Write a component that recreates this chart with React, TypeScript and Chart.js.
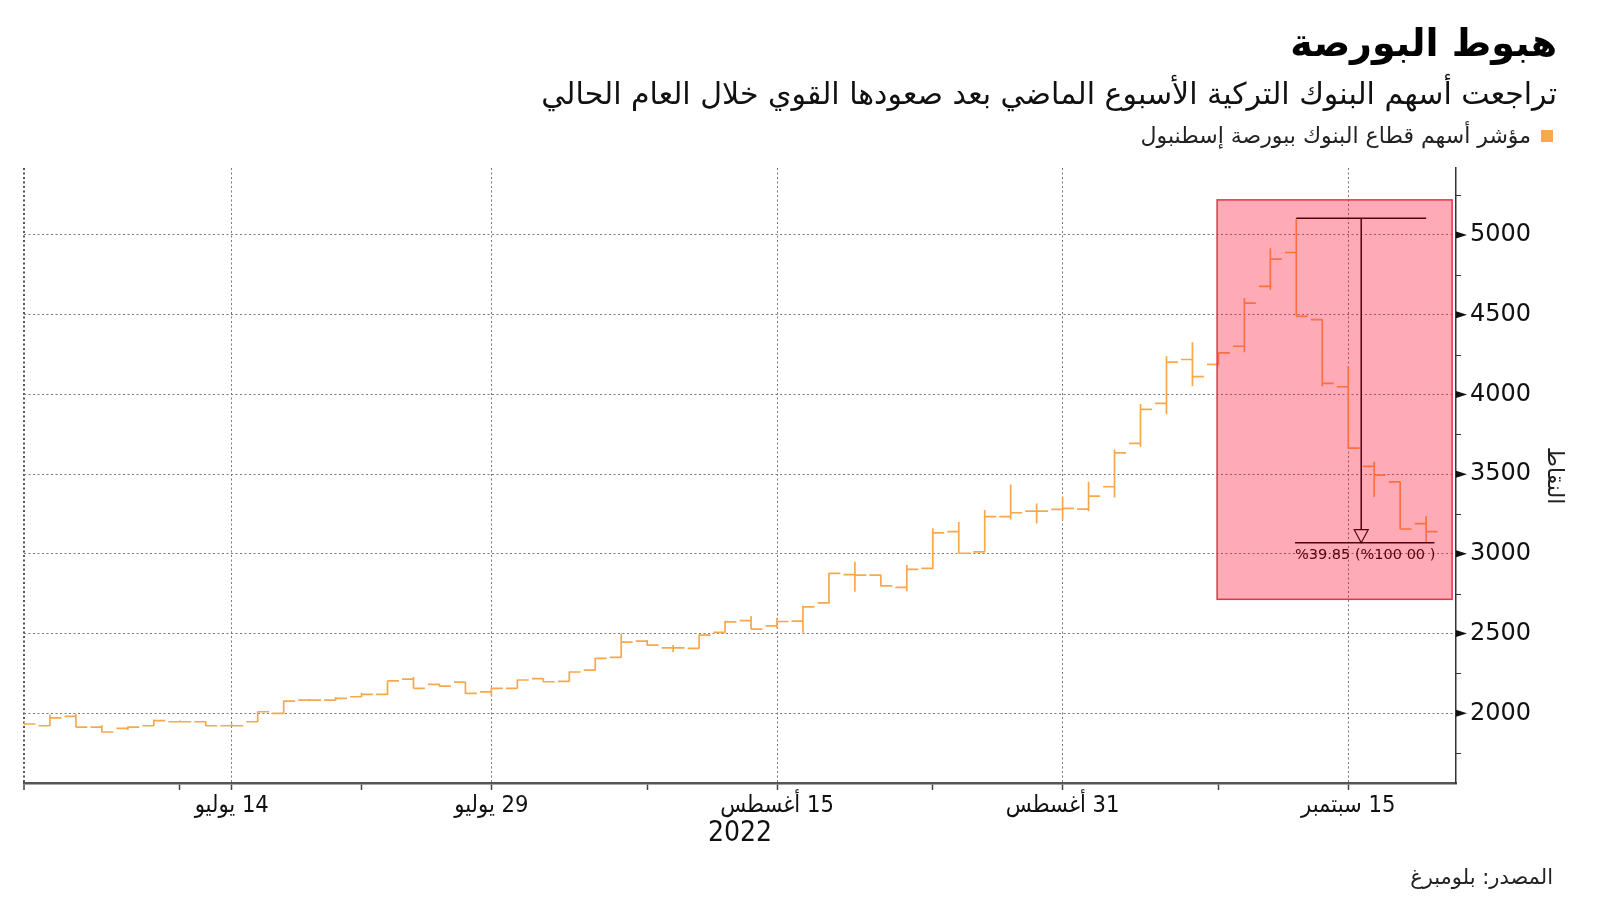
import React, { useEffect, useRef } from "react";
import { Chart, registerables } from "chart.js";

Chart.register(...registerables);

// ---- Data (trading-day index 0..54, 1 Jul 2022 .. 20 Sep 2022) ----
const opens = [
  1940, 1922, 1981, 1914, 1906, 1922, 1947, 1947, 1922, 1947,
  2000, 2083, 2083, 2104, 2119, 2215, 2182, 2196, 2135, 2157,
  2217, 2200, 2271, 2351, 2453, 2411, 2407, 2508, 2581, 2549,
  2578, 2693, 2870, 2867, 2790, 2909, 3139, 3013, 3233, 3268,
  3279, 3281, 3421, 3693, 3944, 4219, 4188, 4302, 4677, 4890,
  4469, 4048, 3549, 3451, 3190,
];
const highs = [
  1950, 1992, 1995, 1925, 1917, 1962, 1955, 1950, 1935, 2012,
  2080, 2090, 2102, 2129, 2205, 2230, 2185, 2198, 2160, 2212,
  2220, 2262, 2348, 2501, 2460, 2428, 2495, 2580, 2610, 2600,
  2675, 2880, 2950, 2870, 2930, 3161, 3200, 3275, 3435, 3316,
  3358, 3452, 3655, 3940, 4240, 4327, 4262, 4604, 4917, 5105,
  4472, 4177, 3578, 3453, 3236,
];
const lows = [
  1925, 1920, 1912, 1880, 1895, 1920, 1942, 1920, 1918, 1945,
  1995, 2075, 2080, 2102, 2115, 2155, 2168, 2122, 2110, 2155,
  2195, 2198, 2268, 2348, 2425, 2383, 2405, 2505, 2527, 2533,
  2505, 2688, 2762, 2797, 2765, 2905, 3002, 3010, 3216, 3190,
  3212, 3268, 3354, 3672, 3875, 4052, 4185, 4264, 4656, 4490,
  4052, 3660, 3359, 3154, 3070,
];
const closes = [
  1933, 1972, 1914, 1883, 1913, 1954, 1947, 1922, 1922, 2010,
  2077, 2083, 2094, 2119, 2203, 2157, 2171, 2125, 2157, 2209,
  2198, 2259, 2345, 2447, 2428, 2411, 2491, 2574, 2528, 2576,
  2668, 2878, 2867, 2799, 2903, 3132, 3004, 3233, 3258, 3268,
  3285, 3362, 3634, 3906, 4202, 4111, 4260, 4573, 4848, 4490,
  4069, 3663, 3494, 3156, 3139,
];

const xMajorIndex = [8, 18, 29, 40, 51];
const xMajorLabels = ["14 يوليو", "29 يوليو", "15 أغسطس", "31 أغسطس", "15 سبتمبر"];
const xMinorIndex = [0, 6, 13, 24, 35, 46];

const yMajor = [2000, 2500, 3000, 3500, 4000, 4500, 5000];
const yMinor = [1750, 2250, 2750, 3250, 3750, 4250, 4750, 5250];

// annotation: peak (high of bar 49) to trough (low of bar 54)
const peakIndex = 49;
const troughIndex = 54;
const dropLabel = "%39.85 (%100 00 )";
// highlighted region (index range, value range)
const boxX = [45.95, 55.0];
const boxY = [2715, 5220];

const ORANGE = "#F8A84C";
const FONT = "'DejaVu Sans', sans-serif";
const FONT_COND = "'DejaVu Sans Condensed', 'DejaVu Sans', sans-serif";

const TICK_W = 0.44;

function buildPoints() {
  const pts: { x: number; y: number | null }[] = [];
  for (let i = 0; i < opens.length; i++) {
    pts.push({ x: i - TICK_W, y: opens[i] }, { x: i, y: opens[i] }, { x: i, y: null });
    pts.push({ x: i, y: lows[i] }, { x: i, y: highs[i] }, { x: i, y: null });
    pts.push({ x: i, y: closes[i] }, { x: i + TICK_W, y: closes[i] }, { x: i + TICK_W, y: null });
  }
  return pts;
}

const overlayPlugin = {
  id: "overlayPlugin",
  afterDatasetsDraw(chart: any) {
    const { ctx, scales } = chart;
    const x = scales.x;
    const y = scales.y;
    const peakVal = highs[peakIndex];
    const troughVal = lows[troughIndex];
    const yp = y.getPixelForValue(peakVal);
    const yt = y.getPixelForValue(troughVal);
    const xPeak = x.getPixelForValue(peakIndex);
    const xEnd = x.getPixelForValue(troughIndex);
    const xMid = (xPeak + xEnd) / 2;
    ctx.save();
    ctx.strokeStyle = "#000";
    ctx.lineWidth = 1.5;
    ctx.beginPath();
    ctx.moveTo(xPeak, yp);
    ctx.lineTo(xEnd, yp);
    ctx.moveTo(xMid, yp);
    ctx.lineTo(xMid, yt - 13);
    ctx.stroke();
    ctx.lineWidth = 1.2;
    ctx.beginPath();
    ctx.moveTo(xMid - 7, yt - 13);
    ctx.lineTo(xMid + 7, yt - 13);
    ctx.lineTo(xMid, yt);
    ctx.closePath();
    ctx.stroke();
    ctx.lineWidth = 1.5;
    ctx.beginPath();
    ctx.moveTo(x.getPixelForValue(peakIndex - 0.05), yt);
    ctx.lineTo(x.getPixelForValue(troughIndex + 0.32), yt);
    ctx.stroke();
    ctx.fillStyle = "#000";
    ctx.font = `14.5px ${FONT}`;
    ctx.direction = "ltr";
    ctx.textAlign = "left";
    ctx.textBaseline = "top";
    ctx.fillText(dropLabel, x.getPixelForValue(peakIndex - 0.05), yt + 5);

    // highlight box
    const bx0 = x.getPixelForValue(boxX[0]);
    const bx1 = x.getPixelForValue(boxX[1]);
    const by0 = y.getPixelForValue(boxY[1]);
    const by1 = y.getPixelForValue(boxY[0]);
    ctx.fillStyle = "rgba(255, 0, 35, 0.33)";
    ctx.fillRect(bx0, by0, bx1 - bx0, by1 - by0);
    ctx.strokeStyle = "#E8304A";
    ctx.lineWidth = 1.5;
    ctx.strokeRect(bx0, by0, bx1 - bx0, by1 - by0);
    ctx.restore();
  },
  afterDraw(chart: any) {
    const { ctx, scales } = chart;
    const y = scales.y;
    const ax = y.left;
    ctx.save();
    ctx.fillStyle = "#111";
    yMajor.forEach((v) => {
      const py = y.getPixelForValue(v);
      ctx.beginPath();
      ctx.moveTo(ax, py - 3.5);
      ctx.lineTo(ax + 11, py);
      ctx.lineTo(ax, py + 3.5);
      ctx.closePath();
      ctx.fill();
    });
    ctx.strokeStyle = "#333";
    ctx.lineWidth = 1;
    yMinor.forEach((v) => {
      const py = Math.round(y.getPixelForValue(v)) + 0.5;
      ctx.beginPath();
      ctx.moveTo(ax, py);
      ctx.lineTo(ax + 5, py);
      ctx.stroke();
    });
    ctx.restore();
  },
};

export default function App() {
  const ref = useRef<HTMLCanvasElement | null>(null);

  useEffect(() => {
    if (!ref.current) return;
    const chart = new Chart(ref.current, {
      type: "line",
      data: {
        datasets: [
          {
            label: "مؤشر أسهم قطاع البنوك ببورصة إسطنبول",
            data: buildPoints() as any,
            borderColor: ORANGE,
            borderWidth: 1.7,
            pointRadius: 0,
            spanGaps: false,
            tension: 0,
            borderCapStyle: "butt",
            fill: false,
          },
        ],
      },
      options: {
        animation: false,
        responsive: false,
        events: [],
        layout: { padding: { left: 24, top: 168, right: 30, bottom: 48 } },
        plugins: { legend: { display: false }, tooltip: { enabled: false }, title: { display: false } },
        scales: {
          x: {
            type: "linear",
            min: 0,
            max: 55.15,
            afterBuildTicks: (s: any) => {
              s.ticks = [...xMinorIndex, ...xMajorIndex].sort((a, b) => a - b).map((v) => ({ value: v }));
            },
            afterFit: (s: any) => {
              s.height = 70;
            },
            ticks: {
              autoSkip: false,
              maxRotation: 0,
              padding: 2,
              color: "#111",
              font: { family: FONT_COND, size: 23.5 },
              callback: (v: any) => {
                const k = xMajorIndex.indexOf(Number(v));
                return k >= 0 ? xMajorLabels[k] : "";
              },
            },
            grid: {
              color: (c: any) => {
                const v = c.tick ? c.tick.value : -1;
                if (v === 0) return "#555";
                return xMajorIndex.includes(v) ? "#7a7a7a" : "rgba(0,0,0,0)";
              },
              lineWidth: (c: any) => (c.tick && c.tick.value === 0 ? 2 : 1),
              tickColor: "#444",
              tickLength: 7,
              tickWidth: 1.5,
            },
            border: { display: true, color: "#555", width: 2.5, dash: [2, 2.5] },
            title: {
              display: true,
              text: "2022",
              color: "#111",
              font: { family: FONT_COND, size: 28 },
              padding: { top: 0, bottom: 2 },
            },
          },
          y: {
            type: "linear",
            position: "right",
            min: 1563,
            max: 5420,
            afterBuildTicks: (s: any) => {
              s.ticks = [...yMinor, ...yMajor].sort((a, b) => a - b).map((v) => ({ value: v }));
            },
            afterFit: (s: any) => {
              s.width = 114;
            },
            ticks: {
              padding: 3,
              color: "#111",
              font: { family: FONT, size: 24 },
              callback: (v: any) => (yMajor.includes(Number(v)) ? String(v) : ""),
            },
            grid: {
              color: (c: any) => (c.tick && yMajor.includes(c.tick.value) ? "#7a7a7a" : "rgba(0,0,0,0)"),
              lineWidth: 1,
              tickColor: "rgba(0,0,0,0)",
              tickLength: 11,
            },
            border: { display: true, color: "#333", width: 1.5, dash: [2, 2.5] },
            title: {
              display: true,
              text: "النقاط",
              color: "#222",
              font: { family: FONT, size: 22 },
              padding: { top: 3, bottom: 0 },
            },
          },
        },
      },
      plugins: [overlayPlugin],
    });
    return () => chart.destroy();
  }, []);

  const rtl: React.CSSProperties = { position: "absolute", direction: "rtl", whiteSpace: "nowrap", fontFamily: FONT };

  return (
    <div style={{ position: "absolute", left: 0, top: 0, width: 1600, height: 901, background: "#fff", overflow: "hidden" }}>
      <canvas ref={ref} width={1600} height={901} style={{ position: "absolute", left: 0, top: 0, width: 1600, height: 901, direction: "rtl" }} />
      <div style={{ ...rtl, right: 43, top: 19, fontSize: 38, lineHeight: "48px", fontWeight: 700, color: "#000" }}>هبوط البورصة</div>
      <div style={{ ...rtl, right: 43, top: 76, fontSize: 30, lineHeight: "36px", color: "#111" }}>
        تراجعت أسهم البنوك التركية الأسبوع الماضي بعد صعودها القوي خلال العام الحالي
      </div>
      <div style={{ position: "absolute", left: 1541, top: 130, width: 12, height: 12, background: ORANGE }} />
      <div style={{ ...rtl, right: 69, top: 123, fontSize: 22, lineHeight: "26px", color: "#222" }}>
        مؤشر أسهم قطاع البنوك ببورصة إسطنبول
      </div>
      <div style={{ ...rtl, right: 47, top: 864, fontSize: 21, lineHeight: "26px", color: "#222" }}>المصدر: بلومبرغ</div>
    </div>
  );
}
